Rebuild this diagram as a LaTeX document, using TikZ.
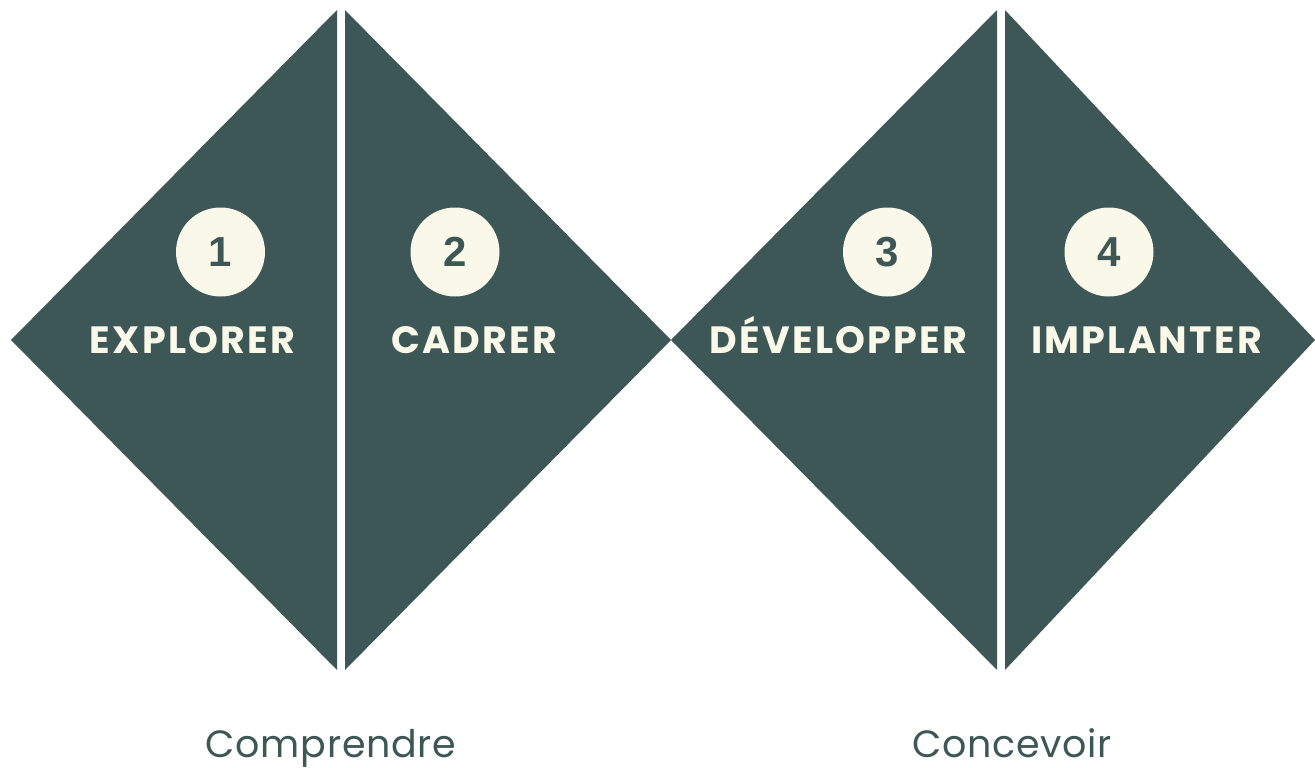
\documentclass[tikz,border=0pt]{standalone}
\usepackage{fontspec}
\setmainfont{Poppins}
\newfontfamily\numfont{Liberation Sans}
\newfontfamily\phasefont[LetterSpace=6]{Poppins}
\newfontfamily\groupfont[LetterSpace=2]{Poppins}
\definecolor{teal}{HTML}{3C5755}
\definecolor{cream}{HTML}{FAF8E8}
\begin{document}
\begin{tikzpicture}[x=1pt,y=-1pt,
  tri/.style={fill=teal,draw=none},
  numcirc/.style={circle,fill=cream,minimum size=89pt,inner sep=0pt,text=teal,font=\numfont\bfseries\fontsize{42}{46}\selectfont},
  phase/.style={text=cream,font=\phasefont\bfseries\fontsize{38}{44}\selectfont,inner sep=0pt,anchor=base},
  group/.style={text=teal,font=\groupfont\fontsize{38}{44}\selectfont,inner sep=0pt,anchor=base}]
\useasboundingbox (0,0) rectangle (1315,768);
\fill[tri] (11,340) -- (337,10) -- (337,670) -- cycle;
\fill[tri] (345,10) -- (671,340) -- (345,670) -- cycle;
\fill[tri] (671,340) -- (997,10) -- (997,670) -- cycle;
\fill[tri] (1005,10) -- (1315,340) -- (1005,670) -- cycle;
\node[numcirc] (c1) at (220.5,252) {1};
\node[numcirc] (c2) at (455,252) {2};
\node[numcirc] (c3) at (887.5,252) {3};
\node[numcirc] (c4) at (1109,252) {4};
\node[phase] (p1) at (192.5,353) {EXPLORER};
\node[phase] (p2) at (474.5,353) {CADRER};
\node[phase] (p3) at (838.5,353) {DÉVELOPPER};
\node[phase] (p4) at (1146.5,353) {IMPLANTER};
\node[group] (g1) at (331,757) {Comprendre};
\node[group] (g2) at (1012,757) {Concevoir};
\end{tikzpicture}
\end{document}
